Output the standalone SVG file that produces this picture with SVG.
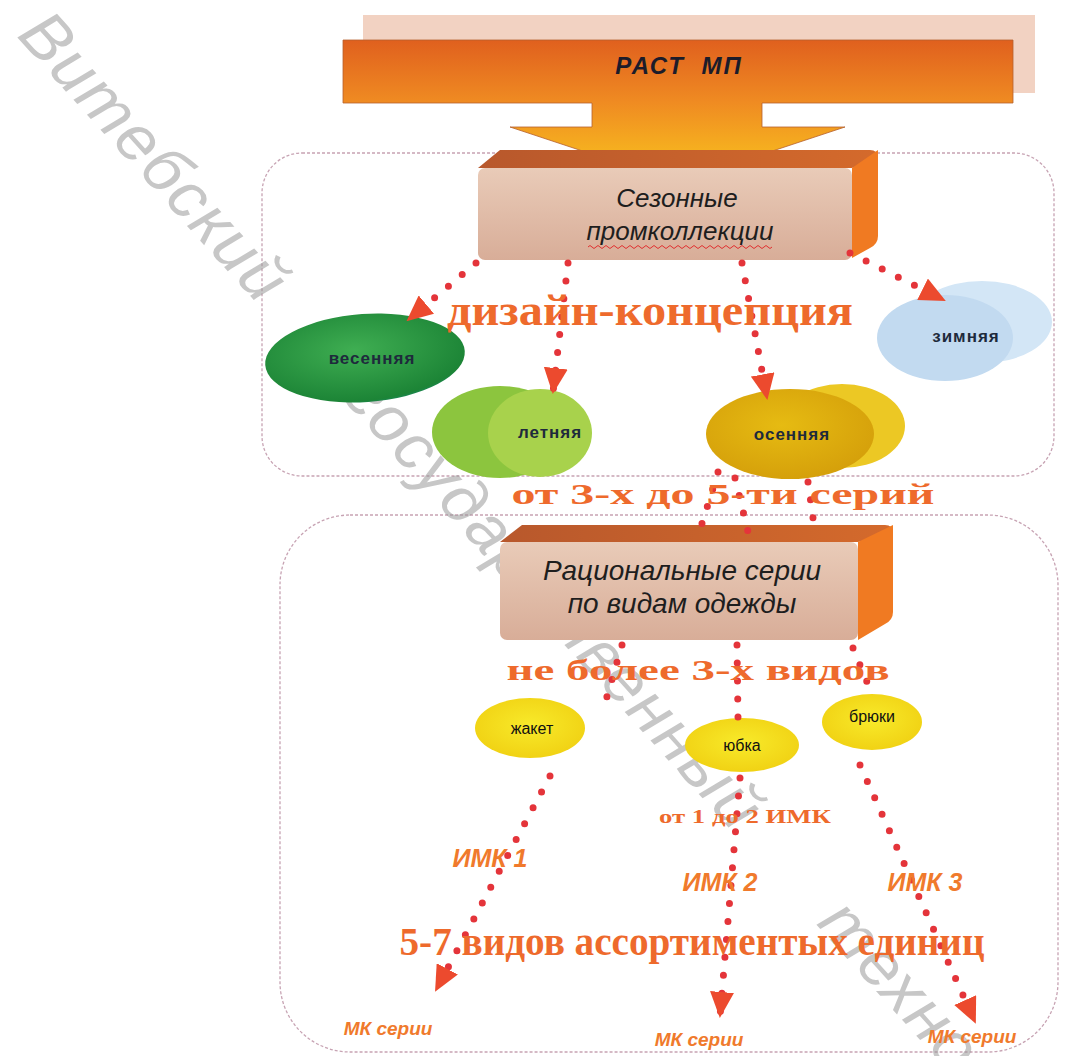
<svg xmlns="http://www.w3.org/2000/svg" width="1066" height="1056" viewBox="0 0 1066 1056">
<defs>
<linearGradient id="gBanner" x1="0" y1="0" x2="0" y2="1">
<stop offset="0" stop-color="#e0601e"/><stop offset="0.45" stop-color="#ef8a22"/><stop offset="1" stop-color="#f9c21e"/>
</linearGradient>
<linearGradient id="gFront" x1="0" y1="0" x2="0" y2="1">
<stop offset="0" stop-color="#e9cbb8"/><stop offset="1" stop-color="#d8ad98"/>
</linearGradient>
<linearGradient id="gTop" x1="0" y1="0" x2="1" y2="0">
<stop offset="0" stop-color="#b8582c"/><stop offset="1" stop-color="#d46a2c"/>
</linearGradient>
<radialGradient id="gSpring" cx="0.45" cy="0.4" r="0.65">
<stop offset="0" stop-color="#3fae52"/><stop offset="0.9" stop-color="#1c8436"/><stop offset="1" stop-color="#1a8a70"/>
</radialGradient>
<radialGradient id="gAut" cx="0.45" cy="0.4" r="0.65">
<stop offset="0" stop-color="#e6bb12"/><stop offset="1" stop-color="#d49e0a"/>
</radialGradient>
<radialGradient id="gYel" cx="0.5" cy="0.45" r="0.6">
<stop offset="0" stop-color="#f8ea2a"/><stop offset="1" stop-color="#f0d012"/>
</radialGradient>
<marker id="ah" markerUnits="userSpaceOnUse" markerWidth="26" markerHeight="24" refX="24" refY="12" orient="auto">
<path d="M0,0 L26,12 L0,24 Z" fill="#ec4a2e"/>
</marker>
<style>
.cont{fill:none;stroke:#c7a3b3;stroke-width:1.3;stroke-dasharray:3 2}
.dot{fill:none;stroke:#e4343a;stroke-width:7;stroke-linecap:round;stroke-dasharray:0 18}
.bx{font-family:"Liberation Sans",Arial,sans-serif;font-style:italic;fill:#1e1e1e;text-anchor:middle}
.el{font-family:"Liberation Sans",Arial,sans-serif;font-weight:bold;font-size:17px;fill:#1e2a3c;text-anchor:middle;letter-spacing:1px}
.el2{font-family:"Liberation Sans",Arial,sans-serif;font-size:16px;fill:#111;text-anchor:middle}
.ser{font-family:"Liberation Serif","Times New Roman",serif;font-weight:bold;fill:#ee6a2c;text-anchor:middle}
.imk{font-family:"Liberation Sans",Arial,sans-serif;font-style:italic;font-weight:bold;fill:#f07a2c;text-anchor:middle}
.wm{font-family:"Liberation Sans",Arial,sans-serif;font-style:italic;font-size:66px;letter-spacing:2px;word-spacing:100px;fill:#9a9a9a;opacity:0.55}
</style>
</defs>
<rect width="1066" height="1056" fill="#ffffff"/>

<g id="containers">
<rect class="cont" x="262" y="153" width="792" height="323" rx="40"/>
<rect class="cont" x="280" y="515" width="778" height="537" rx="70"/>
</g>

<text class="wm" x="16" y="36" transform="rotate(48 16 36)">Витебский государственный технологический</text>

<g id="rast">
<rect x="363" y="15" width="672" height="78" fill="#f2d2c2"/>
<path d="M343,40 H1013 V103 H762 V127 H845 L700,175 H655 L510,127 H592 V103 H343 Z" fill="url(#gBanner)" stroke="#b5602e" stroke-width="0.8"/>
<text x="679" y="74" font-family="'Liberation Sans',Arial,sans-serif" font-style="italic" font-weight="bold" font-size="24" fill="#1c1c2a" text-anchor="middle" letter-spacing="2" word-spacing="8">РАСТ МП</text>
</g>

<g id="box1">
<path d="M478,168 L500,150 H870 Q878,150 878,158 L852,168 Z" fill="url(#gTop)"/>
<path d="M852,168 L878,150 V236 Q878,244 870,248 L852,258 Z" fill="#f07a22"/>
<rect x="478" y="168" width="374" height="92" rx="7" fill="url(#gFront)"/>
<text class="bx" x="677" y="207" font-size="26">Сезонные</text>
<text class="bx" x="680" y="240" font-size="26">промколлекции</text>
<path d="M588,247 q2,-3 4,0 t4,0 t4,0 t4,0 t4,0 t4,0 t4,0 t4,0 t4,0 t4,0 t4,0 t4,0 t4,0 t4,0 t4,0 t4,0 t4,0 t4,0 t4,0 t4,0 t4,0 t4,0 t4,0 t4,0 t4,0 t4,0 t4,0 t4,0 t4,0 t4,0 t4,0 t4,0 t4,0 t4,0 t4,0 t4,0 t4,0 t4,0 t4,0 t4,0 t4,0 t4,0 t4,0 t4,0 t4,0 t4,0" fill="none" stroke="#e03030" stroke-width="1"/>
</g>

<g id="spring">
<ellipse cx="365" cy="358" rx="100" ry="44" transform="rotate(-4 365 358)" fill="url(#gSpring)"/>
<text class="el" x="372" y="364">весенняя</text>
</g>
<g id="summer">
<ellipse cx="500" cy="432" rx="68" ry="46" fill="#8cc53e"/>
<ellipse cx="540" cy="433" rx="52" ry="44" fill="#a8d24c"/>
<text class="el" x="550" y="438">летняя</text>
</g>
<g id="autumn">
<ellipse cx="842" cy="426" rx="63" ry="42" fill="#ecc824"/>
<ellipse cx="790" cy="434" rx="84" ry="45" fill="url(#gAut)"/>
<text class="el" x="792" y="440">осенняя</text>
</g>
<g id="winter">
<ellipse cx="982" cy="322" rx="70" ry="41" fill="#d3e6f6"/>
<ellipse cx="945" cy="338" rx="68" ry="43" fill="#c2daf0"/>
<text class="el" x="966" y="342">зимняя</text>
</g>

<g id="box2">
<path d="M500,542 L522,525 H885 Q893,525 893,533 L858,542 Z" fill="url(#gTop)"/>
<path d="M858,542 L893,525 V612 Q893,620 885,624 L858,640 Z" fill="#f07a22"/>
<rect x="500" y="542" width="358" height="98" rx="7" fill="url(#gFront)"/>
<text class="bx" x="682" y="580" font-size="28">Рациональные серии</text>
<text class="bx" x="682" y="613" font-size="28">по видам одежды</text>
</g>

<g id="jacket">
<ellipse cx="530" cy="728" rx="55" ry="30" fill="url(#gYel)"/>
<text class="el2" x="532" y="734">жакет</text>
</g>
<g id="skirt">
<ellipse cx="742" cy="745" rx="57" ry="27" fill="url(#gYel)"/>
<text class="el2" x="742" y="751">юбка</text>
</g>
<g id="trousers">
<ellipse cx="872" cy="722" rx="50" ry="28" fill="url(#gYel)"/>
<text class="el2" x="872" y="722">брюки</text>
</g>

<g id="connectors">
<line class="dot" x1="476" y1="263" x2="408" y2="320" marker-end="url(#ah)"/>
<line class="dot" x1="568" y1="263" x2="553" y2="392" marker-end="url(#ah)"/>
<line class="dot" x1="742" y1="263" x2="767" y2="398" marker-end="url(#ah)"/>
<line class="dot" x1="850" y1="253" x2="944" y2="300" marker-end="url(#ah)"/>
<line class="dot" x1="718" y1="472" x2="700" y2="530"/>
<line class="dot" x1="735" y1="478" x2="750" y2="540"/>
<line class="dot" x1="808" y1="482" x2="814" y2="525"/>
<line class="dot" x1="622" y1="645" x2="606" y2="700"/>
<line class="dot" x1="737" y1="645" x2="738" y2="718"/>
<line class="dot" x1="853" y1="648" x2="872" y2="694"/>
<line class="dot" x1="550" y1="776" x2="436" y2="990" marker-end="url(#ah)"/>
<line class="dot" x1="740" y1="778" x2="720" y2="1016" marker-end="url(#ah)"/>
<line class="dot" x1="860" y1="765" x2="975" y2="1022" marker-end="url(#ah)"/>
</g>

<g id="labels">
<text class="ser" x="650" y="325" font-size="44" fill="#e8553a" textLength="406" lengthAdjust="spacingAndGlyphs">дизайн-концепция</text>
<text class="ser" x="723" y="504" font-size="30" textLength="423" lengthAdjust="spacingAndGlyphs">от 3-х до 5-ти серий</text>
<text class="ser" x="698" y="680" font-size="30" textLength="383" lengthAdjust="spacingAndGlyphs">не более 3-х видов</text>
<text class="ser" x="745" y="823" font-size="18" font-weight="normal" textLength="172" lengthAdjust="spacingAndGlyphs">от 1 до 2 ИМК</text>
<text class="ser" x="692" y="955" font-size="40" textLength="585" lengthAdjust="spacingAndGlyphs">5-7 видов ассортиментых единиц</text>
<text class="imk" x="490" y="867" font-size="25">ИМК 1</text>
<text class="imk" x="720" y="891" font-size="25">ИМК 2</text>
<text class="imk" x="925" y="891" font-size="25">ИМК 3</text>
<text class="imk" x="388" y="1035" font-size="19">МК серии</text>
<text class="imk" x="699" y="1046" font-size="19">МК серии</text>
<text class="imk" x="972" y="1043" font-size="19">МК серии</text>
</g>
</svg>
